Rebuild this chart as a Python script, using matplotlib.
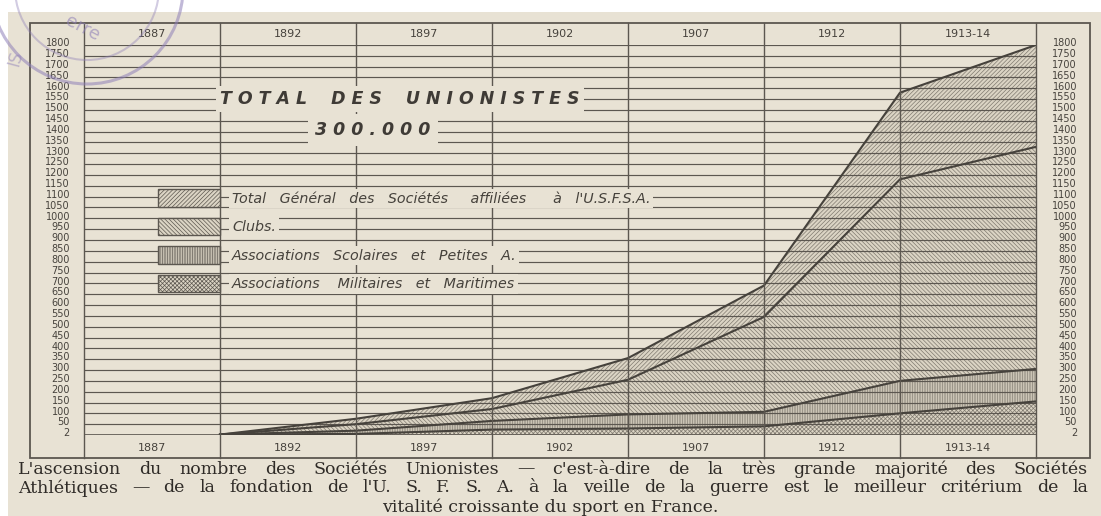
import numpy as np
import matplotlib
matplotlib.use('Agg')
import matplotlib.pyplot as plt
from matplotlib.patches import Patch, Rectangle, Circle

# values (number of societies)
years = ['1887', '1892', '1897', '1902', '1907', '1912', '1913-14']
total = [2, 75, 170, 355, 690, 1580, 1800]
clubs = [2, 50, 120, 255, 545, 1180, 1330]
scolaires = [2, 20, 65, 95, 107, 250, 305]
militaires = [2, 5, 25, 30, 40, 100, 155]

scale_vals = [0] + list(range(50, 1801, 50))
scale_labels = ['2'] + [str(v) for v in range(50, 1801, 50)]

legend_labels = ["Total   Général   des   Sociétés     affiliées      à   l'U.S.F.S.A.",
                 "Clubs.",
                 "Associations   Scolaires   et   Petites   A.",
                 "Associations    Militaires   et   Maritimes"]
hatches = ['////////', '\\\\\\\\\\\\\\\\', '||||||||||', 'xxxxxxxx']

caption = ["L'ascension du nombre des Sociétés Unionistes — c'est-à-dire de la très grande majorité des Sociétés",
           "Athlétiques — de la fondation de l'U. S. F. S. A. à la veille de la guerre est le meilleur critérium de la",
           "vitalité croissante du sport en France."]

paper = '#e8e2d4'
shade = '#dbd4c4'
ink = '#5c5750'
hatch_ink = '#807a70'
txt = '#46423c'

plt.rcParams['hatch.linewidth'] = 0.5

W, H = 1101, 516
fig = plt.figure(figsize=(W / 100, H / 100), dpi=100, facecolor='white')

# paper + outer frame (pixel coords)
bg = fig.add_axes([0, 0, 1, 1], zorder=0)
bg.set_xlim(0, W)
bg.set_ylim(H, 0)
bg.axis('off')
bg.add_patch(Rectangle((8, 12), W, H, facecolor=paper, edgecolor='none'))
bg.add_patch(Rectangle((30, 23), 1060, 435, fill=False, edgecolor=ink, lw=1.3))

# main chart area
L, R, T, B = 84, 1036, 45, 435
ax = fig.add_axes([L / W, (H - B) / H, (R - L) / W, (B - T) / H], zorder=1)
ax.patch.set_alpha(0)
ax.set_xlim(0, len(years))
ax.set_ylim(0, 1800)
ax.axis('off')

top_row = 1 + (T - 23) / (B - T)
bot_row = -(458 - B) / (B - T)

# column dividers through header rows
for i in range(len(years) + 1):
    ax.plot([i, i], [bot_row, top_row], transform=ax.get_xaxis_transform(),
            color=ink, lw=1.0, clip_on=False, zorder=4)

x = np.arange(1, len(years) + 1)
bands = [(clubs, total), (scolaires, clubs), (militaires, scolaires), (np.zeros(len(x)), militaires)]
for (lo, hi), h in zip(bands, hatches):
    ax.fill_between(x, lo, hi, facecolor=shade, edgecolor=hatch_ink, hatch=h, lw=0, zorder=1)

ax.hlines(scale_vals, 0, len(years), color=ink, lw=0.85, zorder=2)
ax.hlines([0, 1800], 0, len(years), color=ink, lw=1.2, zorder=2)

for s in [total, clubs, scolaires, militaires]:
    ax.plot(x, s, color='#46423c', lw=1.5, zorder=3)

# scale labels on both sides
for v, lab in zip(scale_vals, scale_labels):
    ax.text(-14 / (R - L), v + 8, lab, transform=ax.get_yaxis_transform(), ha='right',
            va='center', fontsize=7, color=txt)
    ax.text(1 + 41 / (R - L), v + 8, lab, transform=ax.get_yaxis_transform(), ha='right',
            va='center', fontsize=7, color=txt)

# year labels top and bottom
for i, yr in enumerate(years):
    ax.text(i + 0.5, 1 + 11 / (B - T), yr, transform=ax.get_xaxis_transform(),
            ha='center', va='center', fontsize=8, color=txt)
    ax.text(i + 0.5, -13 / (B - T), yr, transform=ax.get_xaxis_transform(),
            ha='center', va='center', fontsize=8, color=txt)

handles = [Patch(facecolor=shade, edgecolor=ink, hatch=h, lw=1.0) for h in hatches]
fs = 10.3
px = fs * 100 / 72
leg = ax.legend(handles, legend_labels, loc='upper left',
                bbox_to_anchor=(158 / W, 1 - 189 / H), bbox_transform=fig.transFigure,
                frameon=False, borderpad=0, borderaxespad=0,
                handlelength=62 / px, handleheight=22 / px,
                labelspacing=(32.7 - 22) / px, handletextpad=12 / px,
                prop={'style': 'italic', 'size': fs})
leg.set_zorder(6)
for t in leg.get_texts():
    t.set_color(txt)
    t.set_bbox(dict(facecolor=paper, edgecolor='none', pad=2))


def spaced(s, sep, wsep):
    return wsep.join(sep.join(w) for w in s.split(' '))


# overlay for title, stamp, caption
top = fig.add_axes([0, 0, 1, 1], zorder=3)
top.set_xlim(0, W)
top.set_ylim(H, 0)
top.axis('off')

top.text(220, 99, spaced('TOTAL DES UNIONISTES', ' ', '    '), ha='left', va='center',
         fontsize=12.5, weight='bold', style='italic', color='#3f3b36',
         bbox=dict(facecolor=paper, edgecolor='none', pad=3))
top.text(373, 130, spaced('300.000', ' ', ' '), ha='center', va='center', fontsize=12.5,
         weight='bold', style='italic', color='#3f3b36',
         bbox=dict(facecolor=paper, edgecolor='none', pad=5))

# purple library stamp
stamp = '#8f80b8'
top.add_patch(Circle((87, -12), 96, fill=False, edgecolor=stamp, lw=2.2, alpha=0.55))
top.add_patch(Circle((87, -12), 72, fill=False, edgecolor=stamp, lw=1.5, alpha=0.4))
top.text(82, 28, 'erre', rotation=-28, fontsize=13, color=stamp, alpha=0.6,
         ha='center', va='center')
top.text(16, 58, 'IS', rotation=75, fontsize=12, color=stamp, alpha=0.5,
         ha='center', va='center')

# justified caption
renderer = fig.canvas.get_renderer()
cap_font = dict(fontsize=12.5, family='DejaVu Serif', color='#2f2b27')
cap_y = [469, 488, 507]
for k, (line, yy) in enumerate(zip(caption, cap_y)):
    if k < 2:
        words = line.split()
        ts = [top.text(0, yy, w, ha='left', va='center', **cap_font) for w in words]
        widths = [t.get_window_extent(renderer).width for t in ts]
        gap = (1088 - 18 - sum(widths)) / (len(words) - 1)
        xx = 18
        for t, w in zip(ts, widths):
            t.set_x(xx)
            xx += w + gap
    else:
        top.text(550, yy, line, ha='center', va='center', **cap_font)

fig.savefig('out.png', dpi=100)
